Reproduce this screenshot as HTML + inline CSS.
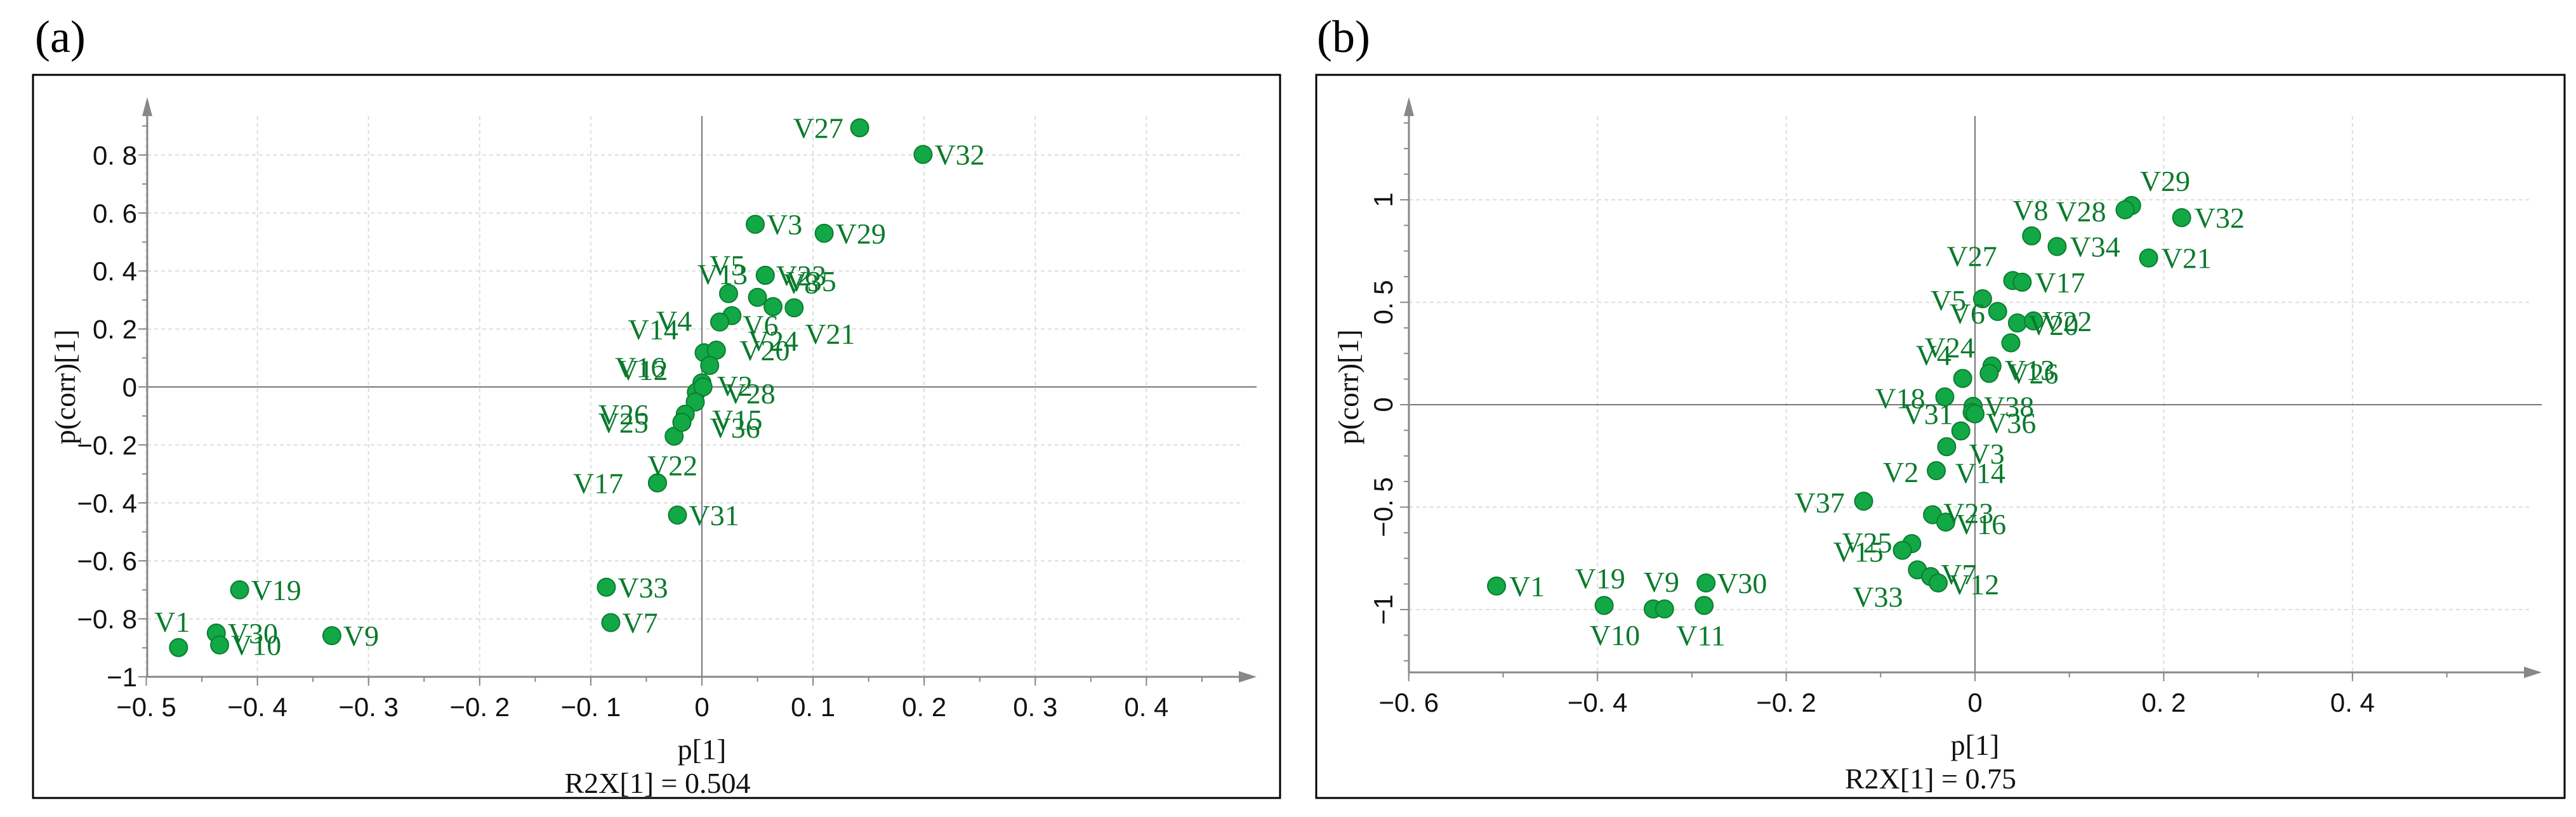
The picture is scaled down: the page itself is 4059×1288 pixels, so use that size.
<!DOCTYPE html>
<html><head><meta charset="utf-8"><style>
html,body{margin:0;padding:0;background:#fff}
svg{display:block}
.tk{font-family:"Liberation Sans",sans-serif;font-size:42px;fill:#111}
.pl{font-family:"Liberation Serif",serif;font-size:46px;fill:#0a7a2c}
.ax{font-family:"Liberation Serif",serif;font-size:46px;fill:#111}
</style></head><body>
<svg id="chart" width="4059" height="1288" xmlns="http://www.w3.org/2000/svg"></svg>
<script>
// ---- Panel (a) data ----
const namesA=["V27","V32","V3","V29","V5","V13","V23","V35","V8","V21","V6","V4","V14","V24","V20","V16","V12","V2","V28","V26","V25","V15","V36","V22","V17","V31","V33","V7","V19","V1","V30","V10","V9"];
const xA=[0.142,0.199,0.048,0.110,0.024,0.057,0.057,0.050,0.064,0.083,0.027,0.016,0.002,0.013,0.007,0.000,-0.005,0.001,-0.006,-0.015,-0.018,-0.025,-0.018,-0.040,-0.040,-0.022,-0.086,-0.082,-0.416,-0.471,-0.437,-0.434,-0.333];
const yA=[0.894,0.802,0.561,0.530,0.322,0.385,0.385,0.309,0.277,0.273,0.246,0.224,0.118,0.127,0.074,0.014,-0.018,0.000,-0.052,-0.094,-0.122,-0.170,-0.122,-0.331,-0.331,-0.442,-0.691,-0.813,-0.700,-0.899,-0.849,-0.890,-0.858];
const ldxA=[-105,18,18,18,-30,-107,17,45,16,17,17,-100,-120,50,47,-137,-124,22,47,-137,-132,60,44,-16,-133,18,18,18,18,-38,18,18,18];
const ldyA=[0,0,0,0,-45,-2,0,-26,-37,41,15,-2,-37,-15,-24,-25,-35,-2,-14,0,0,-26,8,-28,0,0,0,0,0,-41,0,0,0];
const xTicksA=[-0.5,-0.4,-0.3,-0.2,-0.1,0,0.1,0.2,0.3,0.4];
const xTickLabA=["\u22120. 5","\u22120. 4","\u22120. 3","\u22120. 2","\u22120. 1","0","0. 1","0. 2","0. 3","0. 4"];
const yTicksA=[-1,-0.8,-0.6,-0.4,-0.2,0,0.2,0.4,0.6,0.8];
const yTickLabA=["\u22121","\u22120. 8","\u22120. 6","\u22120. 4","\u22120. 2","0","0. 2","0. 4","0. 6","0. 8"];
// ---- Panel (b) data ----
const namesB=["V29","V28","V32","V8","V34","V21","V27","V17","V5","V6","V20","V22","V4","V24","V13","V26","V18","V38","V31","V36","V3","V2","V14","V37","V23","V16","V25","V15","V33","V7","V12","V1","V19","V10","V9","V11","V30"];
const xB=[0.166,0.159,0.219,0.060,0.087,0.184,0.040,0.050,0.008,0.024,0.045,0.062,-0.013,0.038,0.018,0.015,-0.032,-0.002,-0.003,0.000,-0.030,-0.041,-0.015,-0.118,-0.045,-0.031,-0.067,-0.077,-0.061,-0.047,-0.039,-0.507,-0.393,-0.341,-0.329,-0.287,-0.285];
const yB=[0.972,0.951,0.913,0.824,0.772,0.716,0.606,0.598,0.517,0.455,0.399,0.409,0.128,0.302,0.189,0.153,0.038,-0.008,-0.038,-0.045,-0.205,-0.322,-0.128,-0.471,-0.537,-0.573,-0.678,-0.711,-0.806,-0.839,-0.870,-0.885,-0.980,-0.997,-0.997,-0.980,-0.870];
const ldxB=[13,-109,20,-30,20,20,-104,20,-82,-76,17,13,-74,-136,20,30,-110,17,-109,17,35,-84,-9,-109,17,16,-110,-109,-102,16,17,20,-46,-100,-33,-44,17];
const ldyB=[-39,2,0,-41,0,0,-39,0,2,3,3,0,-37,7,6,0,2,0,2,14,11,2,66,2,-3,3,-2,2,42,-4,2,0,-43,41,-43,47,0];

const NS="http://www.w3.org/2000/svg";
const svg=document.getElementById('chart');
function mk(tag,attrs,parent){const e=document.createElementNS(NS,tag);for(const k in attrs)e.setAttribute(k,attrs[k]);(parent||svg).appendChild(e);return e;}

function panel(o){
  const g=mk('g',{});
  
  
  const X=v=>o.x0+(v-o.xv0)*o.xs;
  const Y=v=>o.y0-(v-o.yv0)*o.ys;
  const fr=mk('rect',{x:o.box[0],y:o.box[1],width:o.box[2],height:o.box[3],fill:'none',stroke:'#000','stroke-width':3},g);
  
  
  const t=mk('text',{x:o.title[0],y:o.title[1],style:'font-family:"Liberation Serif",serif;font-size:72px;fill:#000'},g);
  t.textContent=o.titleText;
  
  
  const left=o.axX, bottom=o.axY, right=o.axR, top=o.axT;
  o.xt.forEach(v=>{const l=mk('line',{x1:X(v),x2:X(v),y1:top+30,y2:bottom,stroke:'#ddd','stroke-width':2,'stroke-dasharray':'6,5'},g);
    });
  o.yt.forEach(v=>{const l=mk('line',{x1:left,x2:right-20,y1:Y(v),y2:Y(v),stroke:'#ddd','stroke-width':2,'stroke-dasharray':'6,5'},g);
    });
  const zx=mk('line',{x1:X(0),x2:X(0),y1:top+30,y2:bottom,stroke:'#777','stroke-width':2},g);
  
  const zy=mk('line',{x1:left,x2:right,y1:Y(0),y2:Y(0),stroke:'#777','stroke-width':2},g);
  
  const xa=mk('line',{x1:left,x2:right-10,y1:bottom,y2:bottom,stroke:'#888','stroke-width':3},g);
  
  const xar=mk('polygon',{points:`${right},${bottom} ${right-28},${bottom-9} ${right-28},${bottom+9}`,fill:'#888'},g);
  
  const ya=mk('line',{x1:left,x2:left,y1:top+10,y2:bottom,stroke:'#888','stroke-width':3},g);
  
  const yar=mk('polygon',{points:`${left},${top} ${left-8},${top+30} ${left+8},${top+30}`,fill:'#888'},g);
  
  for(let v=o.xmin;v<=o.xmax+1e-9;v+=o.xminor){const l=mk('line',{x1:X(v),x2:X(v),y1:bottom,y2:bottom+8,stroke:'#888','stroke-width':2},g);
    }
  for(let v=o.ymin;v<=o.ymax+1e-9;v+=o.yminor){const l=mk('line',{x1:left-8,x2:left,y1:Y(v),y2:Y(v),stroke:'#888','stroke-width':2},g);
    }
  o.xt.forEach((v,i)=>{const l=mk('line',{x1:X(v),x2:X(v),y1:bottom,y2:bottom+14,stroke:'#888','stroke-width':2},g);
    
    const tx=mk('text',{x:X(v),y:bottom+62,'text-anchor':'middle',class:'tk'},g);tx.textContent=o.xl[i];
    });
  o.yt.forEach((v,i)=>{const l=mk('line',{x1:left-14,x2:left,y1:Y(v),y2:Y(v),stroke:'#888','stroke-width':2},g);
    
    let tx;
    if(o.rotY){tx=mk('text',{x:0,y:0,'text-anchor':'middle',class:'tk',transform:`translate(${left-26},${Y(v)}) rotate(-90)`},g);}
    else{tx=mk('text',{x:left-16,y:Y(v)+15,'text-anchor':'end',class:'tk'},g);}
    tx.textContent=o.yl[i];
    });
  const xt=mk('text',{x:X(0),y:bottom+130,'text-anchor':'middle',class:'ax'},g);xt.textContent='p[1]';
  
  const r2=mk('text',{x:X(0)-70,y:bottom+183,'text-anchor':'middle',class:'ax'},g);r2.textContent=o.r2;
  
  const yt=mk('text',{x:0,y:0,'text-anchor':'middle',class:'ax',transform:`translate(${o.yTitleX},${o.yTitleY}) rotate(-90)`},g);yt.textContent='p(corr)[1]';
  
  o.names.forEach((n,i)=>{
    const c=mk('circle',{cx:X(o.xs_[i]),cy:Y(o.ys_[i]),r:14,fill:'#12a845',stroke:'#0b7d30','stroke-width':2},g);
    
    
  });
  o.names.forEach((n,i)=>{
    const tx=mk('text',{x:X(o.xs_[i])+o.ldx[i],y:Y(o.ys_[i])+o.ldy[i]+16,class:'pl'},g);tx.textContent=n;
    
    
  });
}
panel({id:'panel-a',titleText:'(a)',title:[55,82],box:[52,118,1965,1140],
  x0:1106,xv0:0,xs:1751,y0:610,yv0:0,ys:457,axX:232,axY:1067,axR:1980,axT:153,
  xmin:-0.5,xmax:0.45,xminor:0.05,ymin:-1,ymax:0.95,yminor:0.1,
  xt:xTicksA,xl:xTickLabA,yt:yTicksA,yl:yTickLabA,rotY:false,r2:'R2X[1] = 0.504',
  yTitleX:118,yTitleY:610,names:namesA,xs_:xA,ys_:yA,ldx:ldxA,ldy:ldyA});
const xTicksB=[-0.6,-0.4,-0.2,0,0.2,0.4];
const xTickLabB=["\u22120. 6","\u22120. 4","\u22120. 2","0","0. 2","0. 4"];
const yTicksB=[-1,-0.5,0,0.5,1];
const yTickLabB=["\u22121","\u22120. 5","0","0. 5","1"];
panel({id:'panel-b',titleText:'(b)',title:[2075,82],box:[2074,118,1967,1140],
  x0:3112,xv0:0,xs:1487,y0:638,yv0:0,ys:323,axX:2220,axY:1060,axR:4005,axT:153,
  xmin:-0.6,xmax:0.55,xminor:0.1,ymin:-1.25,ymax:1.45,yminor:0.125,
  xt:xTicksB,xl:xTickLabB,yt:yTicksB,yl:yTickLabB,rotY:true,r2:'R2X[1] = 0.75',
  yTitleX:2140,yTitleY:610,names:namesB,xs_:xB,ys_:yB,ldx:ldxB,ldy:ldyB});
</script>
</body></html>
